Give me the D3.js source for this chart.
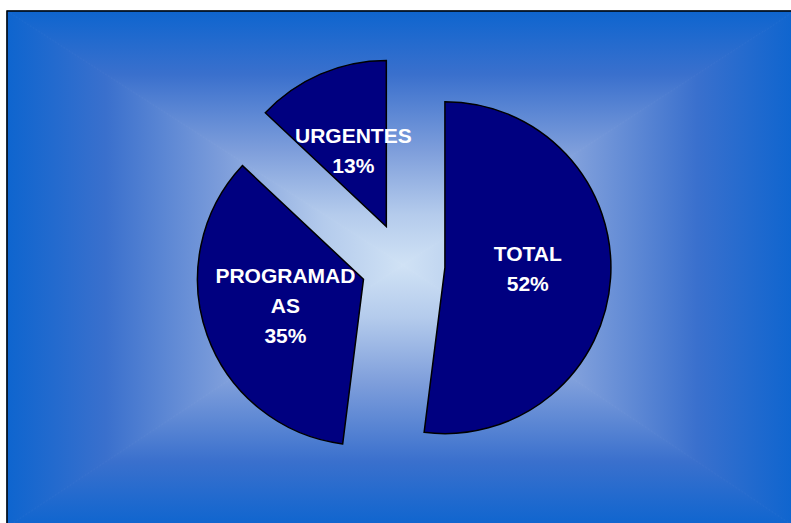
<!DOCTYPE html>
<html>
<head>
<meta charset="utf-8">
<script src="https://cdn.jsdelivr.net/npm/d3@7/dist/d3.min.js"></script>
<style>
  body { margin: 0; background: #ffffff; }
  svg { display: block; }
</style>
</head>
<body>
<div id="chart"></div>
<script>
// data
var categories = ["TOTAL", "PROGRAMADAS", "URGENTES"];
var values = [52, 35, 13];

var width = 791;
var height = 523;

// plot area (right and bottom edges run off the picture)
var area = { x0: 7, y0: 11, x1: 795, y1: 527 };
var cx = 403, cy = 265;
var radius = 166;
var explode = 42;

var svg = d3.select('#chart')
    .append('svg')
    .attr('width', width)
    .attr('height', height);

var defs = svg.append('defs');

// rectangular "from centre" gradient, built from four triangles
var stops = [
    { o: 0, c: '#0e65cf' },
    { o: 0.25, c: '#3a70cd' },
    { o: 0.55, c: '#7e9edb' },
    { o: 0.8, c: '#b4cbec' },
    { o: 1, c: '#d0e2f5' }
];
var sides = [
    { id: 'gTop', pts: [[area.x0, area.y0], [area.x1, area.y0], [cx, cy]], from: [cx, area.y0], to: [cx, cy] },
    { id: 'gBottom', pts: [[area.x0, area.y1], [area.x1, area.y1], [cx, cy]], from: [cx, area.y1], to: [cx, cy] },
    { id: 'gLeft', pts: [[area.x0, area.y0], [area.x0, area.y1], [cx, cy]], from: [area.x0, cy], to: [cx, cy] },
    { id: 'gRight', pts: [[area.x1, area.y0], [area.x1, area.y1], [cx, cy]], from: [area.x1, cy], to: [cx, cy] }
];

sides.forEach(function (s) {
    var g = defs.append('linearGradient')
        .attr('id', s.id)
        .attr('gradientUnits', 'userSpaceOnUse')
        .attr('x1', s.from[0]).attr('y1', s.from[1])
        .attr('x2', s.to[0]).attr('y2', s.to[1]);
    stops.forEach(function (st) {
        g.append('stop').attr('offset', st.o).attr('stop-color', st.c);
    });
});

svg.selectAll('.bg')
    .data(sides)
    .enter()
    .append('polygon')
    .attr('class', 'bg')
    .attr('points', function (d) { return d.pts.join(' '); })
    .attr('fill', function (d) { return 'url(#' + d.id + ')'; })
    .attr('stroke', function (d) { return 'url(#' + d.id + ')'; })
    .attr('stroke-width', 1);

svg.append('rect')
    .attr('x', area.x0)
    .attr('y', area.y0)
    .attr('width', area.x1 - area.x0)
    .attr('height', area.y1 - area.y0)
    .attr('fill', 'none')
    .attr('stroke', '#000')
    .attr('stroke-width', 1.5);

var pie = d3.pie()
    .value(function (d) { return d; })
    .sort(null);

var arcs = pie(values);
var total = d3.sum(values);

var arc = d3.arc()
    .innerRadius(0)
    .outerRadius(radius);

var g = svg.append('g')
    .attr('transform', 'translate(' + cx + ',' + cy + ')');

var slice = g.selectAll('.slice')
    .data(arcs)
    .enter()
    .append('g')
    .attr('class', 'slice')
    .attr('transform', function (d) {
        var a = (d.startAngle + d.endAngle) / 2;
        return 'translate(' + (explode * Math.sin(a)) + ',' + (-explode * Math.cos(a)) + ')';
    });

slice.append('path')
    .attr('d', arc)
    .attr('fill', '#000080')
    .attr('stroke', '#000')
    .attr('stroke-width', 1.5)
    .attr('stroke-linejoin', 'miter');

// labels: name (wrapped) + percentage
var maxLine = 146;
var lineH = 30;

slice.each(function (d, i) {
    var sel = d3.select(this);
    var pos = arc.centroid(d);
    var txt = sel.append('text')
        .attr('text-anchor', 'middle')
        .attr('fill', '#ffffff')
        .style('font-family', '"Liberation Sans", Arial, sans-serif')
        .style('font-weight', 'bold')
        .style('font-size', '21px');

    // wrap name by characters to fit the label width
    var name = categories[i];
    var lines = [];
    var probe = txt.append('tspan');
    var cur = '';
    for (var k = 0; k < name.length; k++) {
        probe.text(cur + name[k]);
        if (probe.node().getComputedTextLength() > maxLine && cur.length) {
            lines.push(cur);
            cur = name[k];
        } else {
            cur += name[k];
        }
    }
    lines.push(cur);
    probe.remove();
    lines.push(Math.round(d.value / total * 100) + '%');

    var top = pos[1] - (lines.length - 1) * lineH / 2 + 6;
    if (i === 0) top -= 3;
    if (i === 2) top += 2;
    lines.forEach(function (l, j) {
        txt.append('tspan')
            .attr('x', pos[0])
            .attr('y', top + j * lineH)
            .text(l);
    });
});
</script>
</body>
</html>
